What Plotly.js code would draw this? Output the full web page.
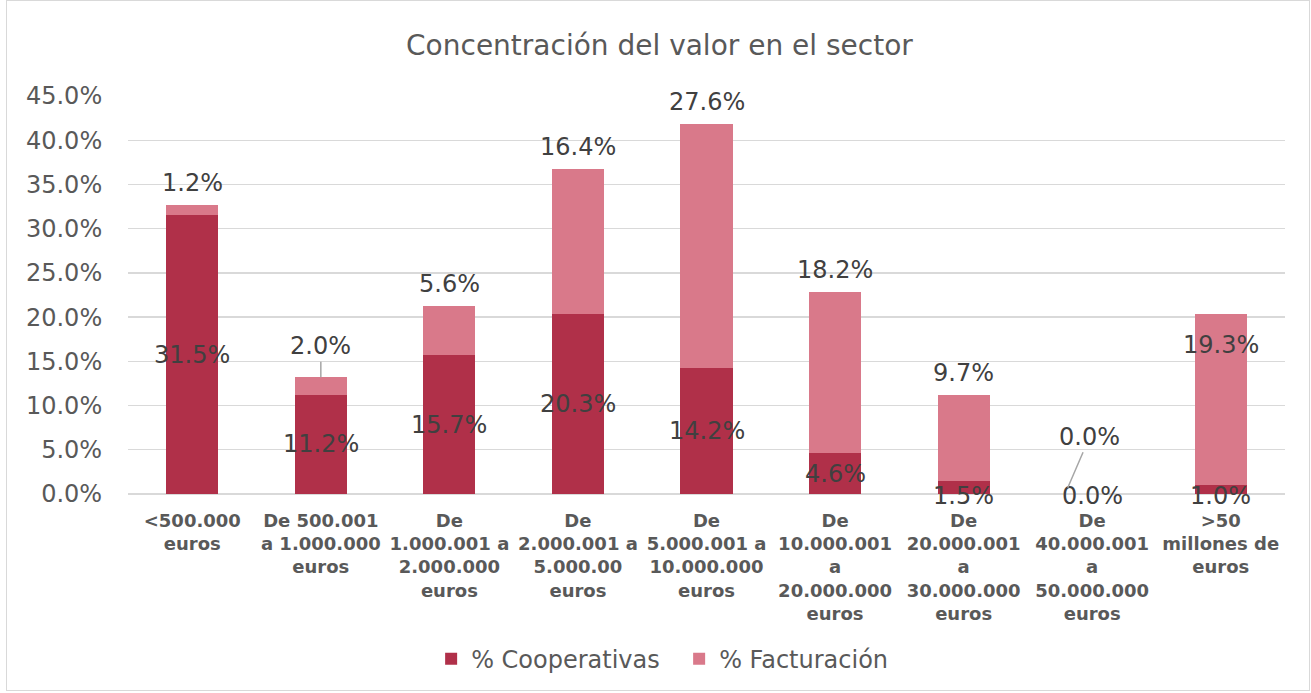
<!DOCTYPE html>
<html>
<head>
<meta charset="utf-8">
<script src="https://cdn.plot.ly/plotly-3.0.1.min.js"></script>
<style>
html,body{margin:0;padding:0;background:#fff;}
#chart{width:1311px;height:693px;}
#frame{position:absolute;left:6px;top:0px;width:1302px;height:689px;border:1px solid #d9d9d9;pointer-events:none;}
</style>
</head>
<body>
<div id="chart"></div>
<div id="frame"></div>
<script>
const categories = [
  "&lt;500.000<br>euros",
  "De 500.001<br>a 1.000.000<br>euros",
  "De<br>1.000.001 a<br>2.000.000<br>euros",
  "De<br>2.000.001 a<br>5.000.00<br>euros",
  "De<br>5.000.001 a<br>10.000.000<br>euros",
  "De<br>10.000.001<br>a<br>20.000.000<br>euros",
  "De<br>20.000.001<br>a<br>30.000.000<br>euros",
  "De<br>40.000.001<br>a<br>50.000.000<br>euros",
  "&gt;50<br>millones de<br>euros"
];
const cooperativas = [31.5, 11.2, 15.7, 20.3, 14.2, 4.6, 1.5, 0.0, 1.0];
const facturacion  = [1.2, 2.0, 5.6, 16.4, 27.6, 18.2, 9.7, 0.0, 19.3];
const yTicks = [0, 5, 10, 15, 20, 25, 30, 35, 40, 45];

const xIdx = categories.map((c, i) => i);
const fontFam = '"DejaVu Sans", Verdana, sans-serif';
const darkCol = '#B03049';
const lightCol = '#D9798A';
const labelFont = {family: fontFam, size: 24, color: '#404040'};

const traces = [
  {type: 'bar', name: '% Cooperativas', x: xIdx, y: cooperativas,
   marker: {color: darkCol}, width: 0.405, hoverinfo: 'skip'},
  {type: 'bar', name: '% Facturación', x: xIdx, y: facturacion,
   marker: {color: lightCol}, width: 0.405, hoverinfo: 'skip'}
];

const ann = [];
// Cooperativas labels: centred in segment
cooperativas.forEach((v, i) => {
  ann.push({x: i, y: v < 2 ? 0 : v / 2, xref: 'x', yref: 'y',
    text: v.toFixed(1) + '%', showarrow: false, font: labelFont,
    yshift: v < 2 ? -2 : 0});
});
// Facturación labels
facturacion.forEach((v, i) => {
  const top = cooperativas[i] + v;
  if (i === 1) {
    ann.push({x: i, y: top, xref: 'x', yref: 'y', text: v.toFixed(1) + '%',
      showarrow: true, arrowhead: 0, arrowwidth: 1.5, arrowcolor: '#a6a6a6',
      ax: 0, ay: -31, font: labelFont});
  } else if (i === 7) {
    ann.push({x: i - 0.19, y: 0.7, xref: 'x', yref: 'y', text: v.toFixed(1) + '%',
      showarrow: true, arrowhead: 0, arrowwidth: 1.5, arrowcolor: '#a6a6a6',
      ax: 22, ay: -51, font: labelFont});
  } else if (i === 8) {
    ann.push({x: i, y: top, xref: 'x', yref: 'y', text: v.toFixed(1) + '%',
      showarrow: false, yshift: -31, font: labelFont});
  } else {
    ann.push({x: i, y: top, xref: 'x', yref: 'y', text: v.toFixed(1) + '%',
      showarrow: false, yshift: 22, font: labelFont});
  }
});

const layout = {
  width: 1311, height: 693,
  margin: {l: 128, r: 26, t: 96, b: 197},
  paper_bgcolor: '#ffffff', plot_bgcolor: '#ffffff',
  barmode: 'stack',
  title: {text: 'Concentración del valor en el sector', x: 0.503, xanchor: 'center',
    y: 0.935, yanchor: 'middle', yref: 'container',
    font: {family: fontFam, size: 28, color: '#595959'}},
  xaxis: {tickvals: xIdx, ticktext: categories, range: [-0.5, 8.5],
    showgrid: false, zeroline: false, showline: false,
    ticks: 'outside', ticklen: 10, tickcolor: 'rgba(0,0,0,0)',
    tickfont: {family: fontFam, size: 18, color: '#595959', weight: 'bold'},
    tickangle: 0, fixedrange: true},
  yaxis: {range: [0, 45], tickvals: yTicks, ticktext: yTicks.map(v => v.toFixed(1) + '%'),
    showgrid: true, gridcolor: '#d9d9d9', gridwidth: 1.3,
    zeroline: true, zerolinecolor: '#d9d9d9', zerolinewidth: 1.3,
    showline: false, ticks: 'outside', ticklen: 20, tickcolor: 'rgba(0,0,0,0)',
    tickfont: {family: fontFam, size: 24, color: '#595959'}, fixedrange: true},
  showlegend: true,
  legend: {orientation: 'h', x: 0.262, xanchor: 'left', y: -0.415, yanchor: 'middle',
    font: {family: fontFam, size: 24, color: '#595959'}, traceorder: 'normal',
    itemwidth: 30, entrywidth: 203, entrywidthmode: 'pixels'},
  annotations: ann,
  bargap: 0.6
};

Plotly.newPlot('chart', traces, layout, {displayModeBar: false, staticPlot: true});
</script>
</body>
</html>
